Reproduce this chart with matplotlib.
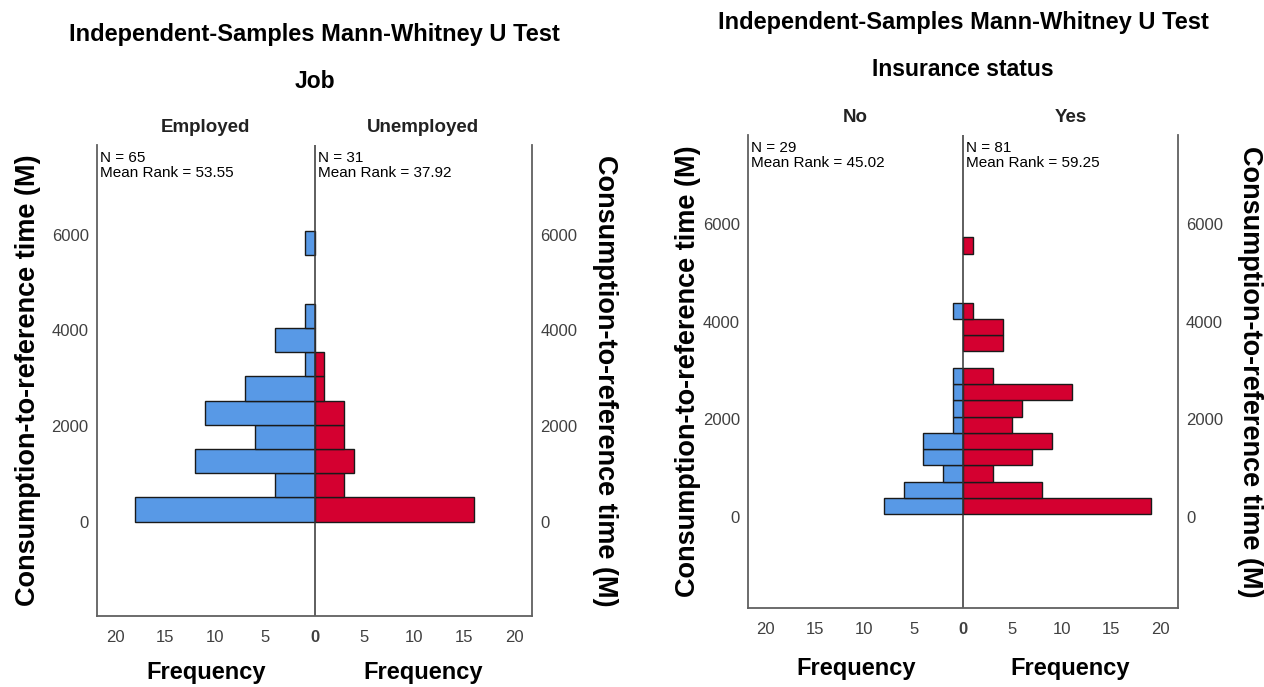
import matplotlib
matplotlib.use("Agg")
import matplotlib.pyplot as plt
import numpy as np

plt.rcParams['font.family'] = ['Liberation Sans', 'DejaVu Sans']

W, H = 1264, 687

# --- data: counts per bin, from the bottom bin upwards ---
job_groups = ["Employed", "Unemployed"]
job_n = [65, 31]
job_rank = [53.55, 37.92]
job_bin_start = 0
job_bin_width = 507
job_employed = [18, 4, 12, 6, 11, 7, 1, 4, 1, 0, 0, 1]
job_unemployed = [16, 3, 4, 3, 3, 1, 1, 0, 0, 0, 0, 0]

ins_groups = ["No", "Yes"]
ins_n = [29, 81]
ins_rank = [45.02, 59.25]
ins_bin_start = 49
ins_bin_width = 334
ins_no = [8, 6, 2, 4, 4, 1, 1, 1, 1, 0, 0, 0, 1, 0, 0, 0, 0]
ins_yes = [19, 8, 3, 7, 9, 5, 6, 11, 3, 0, 4, 4, 1, 0, 0, 0, 1]

freq_ticks = [-20, -15, -10, -5, 0, 5, 10, 15, 20]
y_ticks = [0, 2000, 4000, 6000]

blue = '#5899E6'
red = '#D40030'
ylab = "Consumption-to-reference time (M)"


def px(x0, y0, x1, y1):
    # pixel box -> figure fraction rect
    return [x0 / W, 1 - y1 / H, (x1 - x0) / W, (y1 - y0) / H]


def pyramid(box, left, right, start, width, xlim, ylim, title, var, groups, n, rank,
            title_y, var_y, grp_y, freq_y, ylab_x):
    ax = fig.add_axes(px(*box))
    bottoms = start + width * np.arange(len(left))
    left = np.array(left)
    right = np.array(right)
    m = left > 0
    ax.barh(bottoms[m], -left[m], height=width, align='edge', color=blue,
            edgecolor='#1a1a1a', linewidth=1.0)
    m = right > 0
    ax.barh(bottoms[m], right[m], height=width, align='edge', color=red,
            edgecolor='#1a1a1a', linewidth=1.0)
    ax.axvline(0, color='#333333', lw=1.1)
    ax.set_xlim(-xlim, xlim)
    ax.set_ylim(*ylim)
    ax.set_xticks(freq_ticks)
    ax.set_xticklabels([str(abs(t)) for t in freq_ticks])
    ax.get_xticklabels()[4].set_fontweight('bold')
    ax.set_yticks(y_ticks)
    ax.tick_params(length=0, labelsize=12, colors='#404040', labelleft=True,
                   labelright=True)
    ax.tick_params(axis='x', pad=10)
    ax.tick_params(axis='y', pad=6)
    ax.spines['top'].set_visible(False)
    for s in ['left', 'right', 'bottom']:
        ax.spines[s].set_color('#606060')
        ax.spines[s].set_linewidth(1.3)

    x0, y0, x1, y1 = box
    cx = (x0 + x1) / 2
    mids = [(x0 + cx) / 2, (cx + x1) / 2]
    fig.text(cx / W, 1 - title_y / H, title, ha='center', va='center',
             fontsize=17, fontweight='bold')
    fig.text(cx / W, 1 - var_y / H, var, ha='center', va='center',
             fontsize=16.5, fontweight='bold')
    for mx, g in zip(mids, groups):
        fig.text(mx / W, 1 - grp_y / H, g, ha='center', va='center',
                 fontsize=13.5, fontweight='bold', color='#222222')
        fig.text(mx / W, 1 - freq_y / H, "Frequency", ha='center', va='center',
                 fontsize=17, fontweight='bold')
    for tx, nn, rr in zip([x0 + 3, cx + 3], n, rank):
        ax.text((tx - x0) / (x1 - x0), 0.988, "N = %d\nMean Rank = %.2f" % (nn, rr),
                transform=ax.transAxes, ha='left', va='top', fontsize=11,
                linespacing=1.1)
    fig.text(ylab_x[0] / W, 1 - (y0 + y1) / 2 / H, ylab, rotation=90,
             ha='center', va='center', fontsize=19.5, fontweight='bold')
    fig.text(ylab_x[1] / W, 1 - (y0 + y1) / 2 / H, ylab, rotation=-90,
             ha='center', va='center', fontsize=19.5, fontweight='bold')
    return ax


fig = plt.figure(figsize=(W / 100, H / 100), dpi=100)

pyramid((97, 145, 532, 615.7), job_employed, job_unemployed, job_bin_start,
        job_bin_width, 21.8, (-1967, 7881),
        "Independent-Samples Mann-Whitney U Test", "Job", job_groups, job_n,
        job_rank, 35, 82, 128, 672, (28, 605))

pyramid((748.3, 135, 1177.7, 608), ins_no, ins_yes, ins_bin_start,
        ins_bin_width, 21.7, (-1872, 7825),
        "Independent-Samples Mann-Whitney U Test", "Insurance status",
        ins_groups, ins_n, ins_rank, 22, 70, 117, 668, (688, 1250))

fig.savefig("out.png", dpi=100)
